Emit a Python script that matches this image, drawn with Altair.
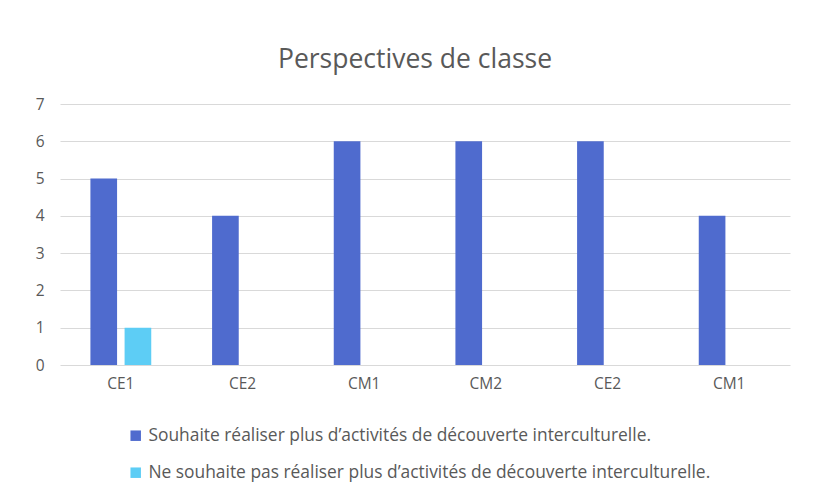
import json
import altair as alt
import pandas as pd

categories = ["CE1", "CE2", "CM1", "CM2", "CE2", "CM1"]
souhaite = [5, 4, 6, 6, 6, 4]
ne_souhaite = [1, 0, 0, 0, 0, 0]
series_names = [
    "Souhaite réaliser plus d’activités de découverte interculturelle.",
    "Ne souhaite pas réaliser plus d’activités de découverte interculturelle.",
]
colors = ["#4F6BCE", "#5DCDF5"]
y_ticks = [0, 1, 2, 3, 4, 5, 6, 7]

rows = []
for i, c in enumerate(categories):
    rows.append({"idx": i, "cat": c, "serie": series_names[0], "val": souhaite[i]})
    rows.append({"idx": i, "cat": c, "serie": series_names[1], "val": ne_souhaite[i]})
df = pd.DataFrame(rows)

label_expr = json.dumps(categories) + "[datum.value]"

font = "Open Sans"
gray = "#595959"

chart = alt.Chart(df).mark_bar().encode(
    x=alt.X("idx:O", title=None,
            scale=alt.Scale(paddingInner=0.5, paddingOuter=0.25),
            axis=alt.Axis(labelExpr=label_expr, labelAngle=0, ticks=False,
                          domain=False, labelPadding=11, labelFontSize=15.5,
                          labelColor=gray, labelFont=font)),
    xOffset=alt.XOffset("serie:N", sort=series_names,
                        scale=alt.Scale(paddingInner=0.22, paddingOuter=0)),
    y=alt.Y("val:Q", title=None,
            scale=alt.Scale(domain=[0, 7], nice=False),
            axis=alt.Axis(values=y_ticks, ticks=False, domain=False,
                          labelPadding=16, labelFontSize=15.5, labelColor=gray,
                          labelFont=font, gridColor="#d9d9d9", gridWidth=1)),
    color=alt.Color("serie:N", sort=series_names,
                    scale=alt.Scale(domain=series_names, range=colors),
                    legend=alt.Legend(title=None, orient="none", legendX=67, legendY=323,
                                      direction="vertical", symbolType="square",
                                      symbolSize=110, labelFontSize=17.4, labelColor=gray,
                                      labelFont=font, rowPadding=18, labelLimit=800,
                                      symbolStrokeWidth=0, labelOffset=4)),
).properties(
    width=730,
    height=261,
    title=alt.TitleParams("Perspectives de classe", fontSize=26.5, fontWeight="normal",
                          color=gray, font=font, offset=24, anchor="middle", dx=-10),
    autosize=alt.AutoSizeParams(type="none"),
    padding={"left": 52, "top": 96, "right": 19, "bottom": 130},
    background="white",
).configure_view(stroke=None)

chart.save("out.html", embed_options={"renderer": "svg", "actions": False})
